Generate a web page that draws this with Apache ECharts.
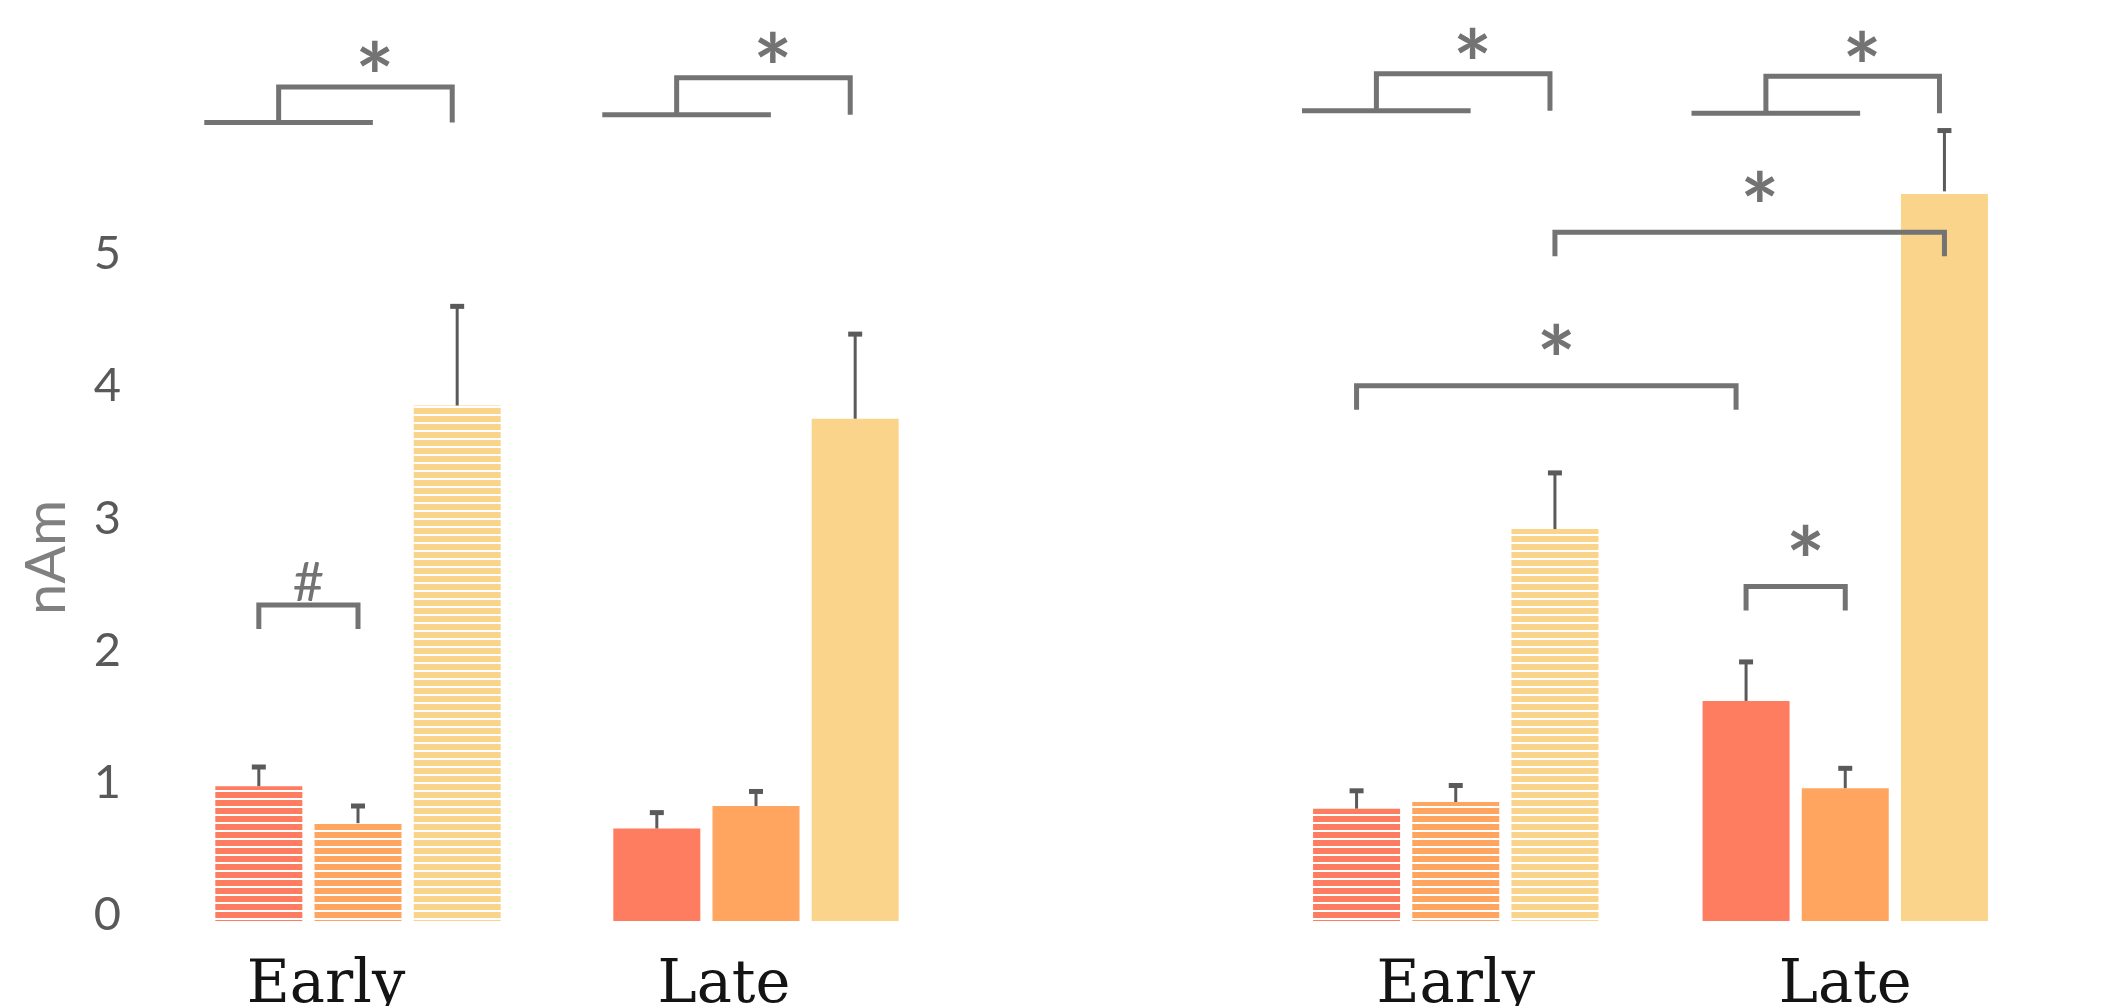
<!DOCTYPE html>
<html><head><meta charset="utf-8">
<script src="https://cdn.jsdelivr.net/npm/echarts@6/dist/echarts.min.js"></script>
<style>html,body{margin:0;padding:0;background:#fff}#c{width:2117px;height:1006px}</style>
</head><body><div id="c"></div>
<script>
// ---------------- data ----------------
const categories = ['Early', 'Late'];
const yTicks = [0, 1, 2, 3, 4, 5];

// left panel: means and upper error (mean + SEM), index = category
const p1Red       = [1.02, 0.70];
const p1Orange    = [0.74, 0.87];
const p1Yellow    = [3.90, 3.80];
const p1RedErr    = [1.165, 0.82];
const p1OrangeErr = [0.87, 0.98];
const p1YellowErr = [4.65, 4.44];

// right panel
const p2Red       = [0.85, 1.665];
const p2Orange    = [0.90, 1.005];
const p2Yellow    = [2.965, 5.52];
const p2RedErr    = [0.985, 1.96];
const p2OrangeErr = [1.025, 1.155];
const p2YellowErr = [3.39, 5.98];

// step brackets (bars 1-2 vs bar 3): [category, base level, top level, label]
const p1Steps = [[0, 6.04, 6.31, '*'], [1, 6.10, 6.38, '*']];
const p2Steps = [[0, 6.13, 6.41, '*'], [1, 6.11, 6.39, '*']];
// pair brackets: [category A, bar A, category B, bar B, level, label]
const p1Pairs = [[0, 0, 0, 1, 2.39, '#']];
const p2Pairs = [[0, 0, 1, 0, 4.05, '*'], [0, 2, 1, 2, 5.21, '*'], [1, 0, 1, 1, 2.53, '*']];

// ---------------- styling ----------------
const COLORS = ['#FE7C60', '#FFA560', '#FAD48B'];
const BAR_W = 87, BAR_GAP = 0.14, SLOT = BAR_W * (1 + BAR_GAP);
const ERR_C = '#5a5a5a', BR_C = '#737373', BR_W = 5;
const STAR_FS = 92;

function hatch(color) {
  const c = document.createElement('canvas');
  c.width = 8; c.height = 8;
  const g = c.getContext('2d');
  g.fillStyle = '#ffffff'; g.fillRect(0, 0, 8, 8);
  g.fillStyle = color; g.fillRect(0, 0, 8, 6);
  return { image: c, repeat: 'repeat' };
}

function barSeries(gi, vals, ci) {
  return {
    type: 'bar', xAxisIndex: gi, yAxisIndex: gi, barWidth: BAR_W, barGap: (BAR_GAP * 100) + '%',
    silent: true, animation: false, z: 2,
    data: vals.map((v, i) => ({ value: v, itemStyle: { color: i === 0 ? hatch(COLORS[ci]) : COLORS[ci] } }))
  };
}

function errSeries(gi, means, errs) {
  const data = [];
  for (let b = 0; b < 3; b++) for (let i = 0; i < categories.length; i++) data.push([i, errs[b][i], means[b][i], b]);
  return {
    type: 'custom', xAxisIndex: gi, yAxisIndex: gi, silent: true, animation: false, z: 5,
    encode: { x: 0, y: [1, 2] },
    data,
    renderItem(params, api) {
      const cat = api.value(0), top = api.value(1), mean = api.value(2), b = api.value(3);
      const pT = api.coord([cat, top]), pM = api.coord([cat, mean]);
      const x = pT[0] + (b - 1) * SLOT;
      return { type: 'group', children: [
        { type: 'line', shape: { x1: x, y1: pM[1], x2: x, y2: pT[1] }, style: { stroke: ERR_C, lineWidth: 3 } },
        { type: 'rect', shape: { x: x - 7, y: pT[1] - 2.5, width: 14, height: 5 }, style: { fill: ERR_C } }
      ] };
    }
  };
}

function starText(x, y, label) {
  const isStar = label === '*';
  return { type: 'text', x: x, y: isStar ? y + 0.17 * STAR_FS : y,
    style: { text: label, fill: BR_C, font: isStar ? ('bold ' + STAR_FS + 'px Lato') : '54px Lato', align: 'center', verticalAlign: 'middle' } };
}

function stepSeries(gi, steps) {
  return {
    type: 'custom', xAxisIndex: gi, yAxisIndex: gi, silent: true, animation: false, z: 6, clip: false,
    encode: { x: 0, y: [1, 2] },
    data: steps.map(s => [s[0], s[1], s[2]]),
    renderItem(params, api) {
      const s = steps[params.dataIndex];
      const pB = api.coord([s[0], s[1]]), pT = api.coord([s[0], s[2]]);
      const c = pB[0];
      const ls = { stroke: BR_C, lineWidth: BR_W, lineCap: 'butt', lineJoin: 'miter', fill: null };
      return { type: 'group', children: [
        { type: 'line', shape: { x1: c - 1.55 * SLOT, y1: pB[1], x2: c + 0.15 * SLOT, y2: pB[1] }, style: ls },
        { type: 'polyline', shape: { points: [[c - 0.8 * SLOT, pB[1]], [c - 0.8 * SLOT, pT[1]], [c + 0.95 * SLOT, pT[1]], [c + 0.95 * SLOT, pB[1]]] }, style: ls },
        starText(c + 0.17 * SLOT, pT[1] - 21, s[3])
      ] };
    }
  };
}

function pairSeries(gi, pairs) {
  return {
    type: 'custom', xAxisIndex: gi, yAxisIndex: gi, silent: true, animation: false, z: 6, clip: false,
    encode: { x: [0, 2], y: 1 },
    data: pairs.map(p => [p[0], p[4], p[2]]),
    renderItem(params, api) {
      const p = pairs[params.dataIndex];
      const a = api.coord([p[0], p[4]]), b = api.coord([p[2], p[4]]);
      const xa = a[0] + (p[1] - 1) * SLOT, xb = b[0] + (p[3] - 1) * SLOT - (p[0] !== p[2] && p[3] === 0 ? 10 : 0), y = a[1];
      const ls = { stroke: BR_C, lineWidth: BR_W, lineJoin: 'miter', fill: null };
      const isStar = p[5] === '*';
      return { type: 'group', children: [
        { type: 'polyline', shape: { points: [[xa, y + 24], [xa, y], [xb, y], [xb, y + 24]] }, style: ls },
        starText((xa + xb) / 2 + (isStar ? 10 : 0), y - (isStar ? 37 : 22), p[5])
      ] };
    }
  };
}

const xAxisBase = (gi, shiftLeft) => ({
  type: 'category', gridIndex: gi, data: categories,
  axisLine: { show: false }, axisTick: { show: false }, splitLine: { show: false },
  axisLabel: { fontFamily: 'DejaVu Serif', fontSize: 59, color: '#141414', margin: 36,
    padding: [0, shiftLeft * 2, 0, 0] }
});

const option = {
  animation: false,
  backgroundColor: '#ffffff',
  grid: [
    { left: 159, right: 1162, top: 194, bottom: 85, outerBoundsMode: 'none', containLabel: false },
    { left: 1261, right: 77, top: 194, bottom: 85, outerBoundsMode: 'none', containLabel: false }
  ],
  xAxis: [xAxisBase(0, 32), xAxisBase(1, 0)],
  yAxis: [
    { type: 'value', gridIndex: 0, min: 0, max: 5.5, interval: 1,
      axisLine: { show: false }, axisTick: { show: false }, splitLine: { show: false },
      axisLabel: { margin: 38,
        formatter: v => (yTicks.indexOf(v) >= 0 ? '{t|' + v + '}' : ''),
        rich: { t: { fontFamily: 'Lato', fontSize: 47, color: '#595959', padding: [0, 0, 12, 0] } } },
      name: 'nAm', nameLocation: 'middle', nameGap: 84,
      nameTextStyle: { fontFamily: 'Lato', fontSize: 56, color: '#808080' } },
    { type: 'value', gridIndex: 1, min: 0, max: 5.5, interval: 1, show: false }
  ],
  series: [
    barSeries(0, p1Red, 0), barSeries(0, p1Orange, 1), barSeries(0, p1Yellow, 2),
    barSeries(1, p2Red, 0), barSeries(1, p2Orange, 1), barSeries(1, p2Yellow, 2),
    errSeries(0, [p1Red, p1Orange, p1Yellow], [p1RedErr, p1OrangeErr, p1YellowErr]),
    errSeries(1, [p2Red, p2Orange, p2Yellow], [p2RedErr, p2OrangeErr, p2YellowErr]),
    stepSeries(0, p1Steps), stepSeries(1, p2Steps),
    pairSeries(0, p1Pairs), pairSeries(1, p2Pairs)
  ]
};

const chart = echarts.init(document.getElementById('c'), null, { renderer: 'canvas' });
chart.setOption(option);
</script>
</body></html>
